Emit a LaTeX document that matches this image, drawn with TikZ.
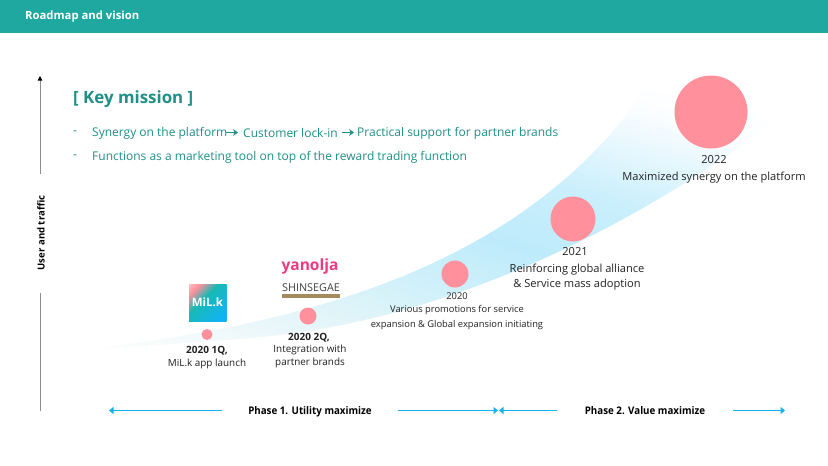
\documentclass[tikz,border=0pt]{standalone}
\usepackage{fontspec}
\setmainfont{Open Sans}
\usetikzlibrary{arrows.meta,shadings,calc}
\definecolor{teal1}{HTML}{1EA8A0}
\definecolor{tealtxt}{HTML}{1F8F88}
\definecolor{pinkc}{HTML}{FF909C}
\definecolor{bluearr}{HTML}{12B4F0}
\definecolor{txt}{HTML}{222222}
\definecolor{sa}{HTML}{EEF8FA}
\definecolor{sb}{HTML}{DAF3F9}
\definecolor{sc}{HTML}{BEEBFB}
\definecolor{sd}{HTML}{CBEFFC}
\definecolor{se}{HTML}{FAFDFF}
\definecolor{yan}{HTML}{EE3A82}
\definecolor{shinband}{HTML}{A58A5E}
\pgfdeclarehorizontalshading{swooshb}{100bp}{
 color(0bp)=(white);
 color(37.4bp)=(white);
 color(41.3bp)=(sa);
 color(45.2bp)=(sb);
 color(51bp)=(sc);
 color(55.4bp)=(sd);
 color(61bp)=(se);
 color(63bp)=(white);
 color(100bp)=(white)}
\pgfdeclarehorizontalshading{milkgrad}{100bp}{
 color(0bp)=(white);
 color(25bp)=(pinkc);
 color(42bp)=(teal1!80!cyan);
 color(75bp)=(bluearr);
 color(100bp)=(bluearr)}
\tikzset{
 px/.style={x=1pt,y=-1pt},
 dot/.style={circle,fill=pinkc,draw=none,inner sep=0pt},
 captext/.style={font=\fontsize{9.9}{11}\selectfont,text=txt,align=center,inner sep=0pt},
 capb/.style={captext,font=\fontsize{10}{11}\selectfont\bfseries},
 capsmall/.style={captext,font=\fontsize{9.35}{10}\selectfont},
 capbig/.style={captext,font=\fontsize{11.1}{12}\selectfont},
 mission/.style={font=\fontsize{12}{14}\selectfont,text=tealtxt,anchor=west,inner sep=0pt},
 phase/.style={font=\fontsize{10.5}{12}\selectfont\bfseries,text=black,inner sep=0pt,xscale=.93},
 phasearr/.style={draw=bluearr,line width=1.8pt,-{Triangle[length=4.5pt,width=7pt]}},
 missarr/.style={draw=tealtxt,line width=1.7pt,-{Stealth[length=5pt,width=7pt]}},
}
\begin{document}
\begin{tikzpicture}[px]
\useasboundingbox (0,0) rectangle (828,466);
\fill[white] (0,0) rectangle (828,466);
\fill[teal1] (0,0) rectangle (828,33);
\node[font=\fontsize{11.3}{13}\selectfont\bfseries,text=white,anchor=west,inner sep=0pt] (title) at (25,17) {Roadmap and vision};
% swoosh
\begin{scope}
\clip (80,350) .. controls (300,325) and (520,270) .. (645,90)
 .. controls (700,100) and (760,105) .. (795,105)
 .. controls (690,190) and (480,320) .. (250,338)
 .. controls (190,343) and (130,347) .. (80,350) -- cycle;
\shade[shading=swooshb,shading angle=73.3] (0,-181) rectangle (828,647);
\end{scope}
% axis
\coordinate (axb) at (40,411);
\coordinate (axt) at (40,76);
\coordinate (axm1) at (40,293);
\coordinate (axm2) at (40,174);
\draw[draw=black!45,line width=0.8pt] (axb) -- (axm1);
\draw[draw=black!45,line width=0.8pt,-{Triangle[length=4.5pt,width=4.5pt,color=black]}] (axm2) -- (axt);
\node[font=\fontsize{9.6}{11}\selectfont\bfseries,rotate=90,text=black,inner sep=0pt] (axl) at (41,233) {User and traffic};
% mission
\node[font=\fontsize{16.9}{19}\selectfont\bfseries,text=tealtxt,anchor=west,inner sep=0pt] (km) at (73,99.5) {[ Key mission ]};
\node[mission] (d1) at (73,133) {-};
\node[mission] (m1) at (92,133) {Synergy on the platform};
\node[mission] (m1b) at (243,133) {Customer lock-in};
\node[mission] (m1c) at (357,133) {Practical support for partner brands};
\node[mission] (d2) at (73,157) {-};
\node[mission] (m2) at (92,157) {Functions as a marketing tool on top of the reward trading function};
\coordinate (arra) at (226,132.5);
\coordinate (arrae) at (238,132.5);
\coordinate (arrb) at (342,132.5);
\coordinate (arrbe) at (354,132.5);
\draw[missarr] (arra) -- (arrae);
\draw[missarr] (arrb) -- (arrbe);
% dots
\node[dot,minimum size=11pt] (a) at (207,334.5) {};
\node[dot,minimum size=17pt] (b) at (308,316) {};
\node[dot,minimum size=27pt] (c) at (455,274) {};
\node[dot,minimum size=45pt] (d) at (573,219) {};
\node[dot,minimum size=73pt] (e) at (711,112) {};
% captions
\node[capb] (a1) at (207,351) {2020 1Q,};
\node[captext] (a2) at (207,363.5) {MiL.k app launch};
\node[capb] (b1) at (309,338) {2020 2Q,};
\node[captext] (b2) at (310,350) {Integration with};
\node[captext] (b3) at (310,362.5) {partner brands};
\node[capsmall] (c1) at (457,296.5) {2020};
\node[capsmall] (c2) at (457,310.5) {Various promotions for service};
\node[capsmall] (c3) at (457,325.5) {expansion \& Global expansion initiating};
\node[capbig] (d1c) at (575,252) {2021};
\node[capbig] (d2c) at (577,270) {Reinforcing global alliance};
\node[capbig] (d3c) at (577,285) {\& Service mass adoption};
\node[capbig] (e1) at (714,159.5) {2022};
\node[capbig] (e2) at (714,177.5) {Maximized synergy on the platform};
% milk logo
\shade[shading=milkgrad,shading angle=-45] (189,284) rectangle (226.5,321.5);
\node[font=\fontsize{11.5}{12}\selectfont\bfseries,text=white,inner sep=0pt] (milk) at (207.5,302.5) {MiL.k};
% yanolja
\node[font=\fontsize{15.5}{16}\selectfont\bfseries,text=yan,inner sep=0pt] (yan) at (310,266) {yanolja};
\node[font=\fontsize{10.8}{12}\selectfont,text=black!75,inner sep=0pt] (shin) at (311,288) {SHINSEGAE};
\fill[shinband] (282,294) rectangle (340,297.5);
% phases
\node[phase] (p1) at (310,411.5) {Phase 1. Utility maximize};
\node[phase] (p2) at (645,410.5) {Phase 2. Value maximize};
\coordinate (l1) at (109,410.5);
\coordinate (l1s) at (222,410.5);
\coordinate (r1s) at (398,410.5);
\coordinate (r1) at (498,410.5);
\coordinate (l2) at (499,410.5);
\coordinate (l2s) at (557,410.5);
\coordinate (r2s) at (733,410.5);
\coordinate (r2) at (785,410.5);
\draw[phasearr] (l1s) -- (l1);
\draw[phasearr] (r1s) -- (r1);
\draw[phasearr] (l2s) -- (l2);
\draw[phasearr] (r2s) -- (r2);
\end{tikzpicture}
\end{document}
